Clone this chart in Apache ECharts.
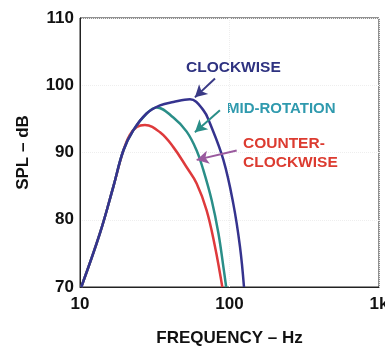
<!DOCTYPE html>
<html><head><meta charset="utf-8">
<script src="https://cdn.jsdelivr.net/npm/echarts@6/dist/echarts.min.js"></script>
<style>html,body{margin:0;padding:0;background:#fff}#c{width:385px;height:346px}</style>
</head><body><div id="c"></div>
<script>
// Data (frequency in Hz, SPL in dB)
const clockwiseFreq = [10.2, 13.6, 16.7, 19.5, 22.7, 27.9, 34.3, 42.1, 54.4, 66.8, 74.1, 91, 106, 117.5, 125];
const clockwiseSpl  = [70, 78, 84.9, 90.3, 93.3, 95.8, 97.0, 97.5, 97.9, 96.3, 94.3, 88.9, 82.4, 76, 70];
const midFreq = [10.2, 13.6, 16.7, 19.5, 22.7, 27.9, 32.6, 42.1, 51.7, 60.3, 66.8, 76, 84.3, 91, 95];
const midSpl  = [70, 78, 84.9, 90.3, 93.3, 95.8, 96.7, 95.2, 93.1, 90.3, 87.4, 82.9, 78, 73, 70];
const ccwFreq = [10.2, 13.6, 16.7, 19.5, 21.5, 24, 27.2, 34.3, 42.1, 51.7, 60.3, 70.3, 80, 86.4, 89.5];
const ccwSpl  = [70, 78, 84.9, 90.3, 92.6, 93.8, 94.1, 93.0, 90.8, 87.8, 85.4, 81.4, 76, 72, 70];
const yTicks = [70, 80, 90, 100, 110];
const xTickLabels = {10: '10', 100: '100', 1000: '1k'};
// annotation arrows [fromFreq, fromSpl, toFreq, toSpl]
const cwArrow  = [80, 101.0, 58.7, 98.2];
const midArrow = [86.3, 96.3, 58.7, 93.0];
const ccwArrow = [111.7, 90.3, 60.3, 88.9];

const zip = (a, b) => a.map((v, i) => [v, b[i]]);
const arrow = (a, color) => ({
  silent: true, symbol: ['none', 'arrow'], symbolSize: [10, 12],
  lineStyle: {color: color, width: 2, type: 'solid'}, label: {show: false},
  data: [[{coord: [a[0], a[1]]}, {coord: [a[2], a[3]]}]]
});
const lbl = {color: '#111', fontSize: 17, fontWeight: 'bold', fontFamily: 'Arial'};

const chart = echarts.init(document.getElementById('c'));
chart.setOption({
  animation: false,
  backgroundColor: '#fff',
  grid: {left: 80, right: 6, top: 18, bottom: 59, show: true, borderColor: '#222', borderWidth: 1,
         containLabel: false, outerBoundsMode: 'none'},
  xAxis: {
    type: 'log', logBase: 10, min: 10, max: 1000,
    axisLine: {lineStyle: {color: '#222'}},
    axisTick: {show: false},
    splitLine: {show: true, lineStyle: {color: '#eee', type: 'dotted'}},
    axisLabel: Object.assign({formatter: v => xTickLabels[v] || '', margin: 9, hideOverlap: false}, lbl),
    name: 'FREQUENCY – Hz', nameLocation: 'middle', nameGap: 43,
    nameTextStyle: lbl
  },
  yAxis: {
    type: 'value', min: yTicks[0], max: yTicks[yTicks.length - 1], interval: 10,
    axisLine: {show: true, lineStyle: {color: '#222'}},
    axisTick: {show: false},
    splitLine: {show: true, lineStyle: {color: '#eee', type: 'dotted'}},
    axisLabel: Object.assign({margin: 6}, lbl),
    name: 'SPL – dB', nameLocation: 'middle', nameGap: 48,
    nameTextStyle: lbl
  },
  series: [
    {type: 'line', name: 'COUNTER-CLOCKWISE', data: zip(ccwFreq, ccwSpl), smooth: 0.4, showSymbol: false,
     lineStyle: {color: '#de3a3c', width: 2.5}, markLine: arrow(ccwArrow, '#9a5a9e')},
    {type: 'line', name: 'MID-ROTATION', data: zip(midFreq, midSpl), smooth: 0.4, showSymbol: false,
     lineStyle: {color: '#2a8e88', width: 2.5}, markLine: arrow(midArrow, '#2a8e88')},
    {type: 'line', name: 'CLOCKWISE', data: zip(clockwiseFreq, clockwiseSpl), smooth: 0.4, showSymbol: false,
     lineStyle: {color: '#35338e', width: 2.5}, markLine: arrow(cwArrow, '#3a3a86')}
  ],
  graphic: [
    {type: 'text', left: 186, top: 60, style: {text: 'CLOCKWISE', fill: '#2e3280', font: 'bold 15.5px Arial'}},
    {type: 'text', left: 227, top: 101, style: {text: 'MID-ROTATION', fill: '#2f9aae', font: 'bold 15px Arial'}},
    {type: 'text', left: 243, top: 134, style: {text: 'COUNTER-\nCLOCKWISE', fill: '#dc3b30', font: 'bold 15.5px Arial', lineHeight: 19}}
  ]
});
</script></body></html>
